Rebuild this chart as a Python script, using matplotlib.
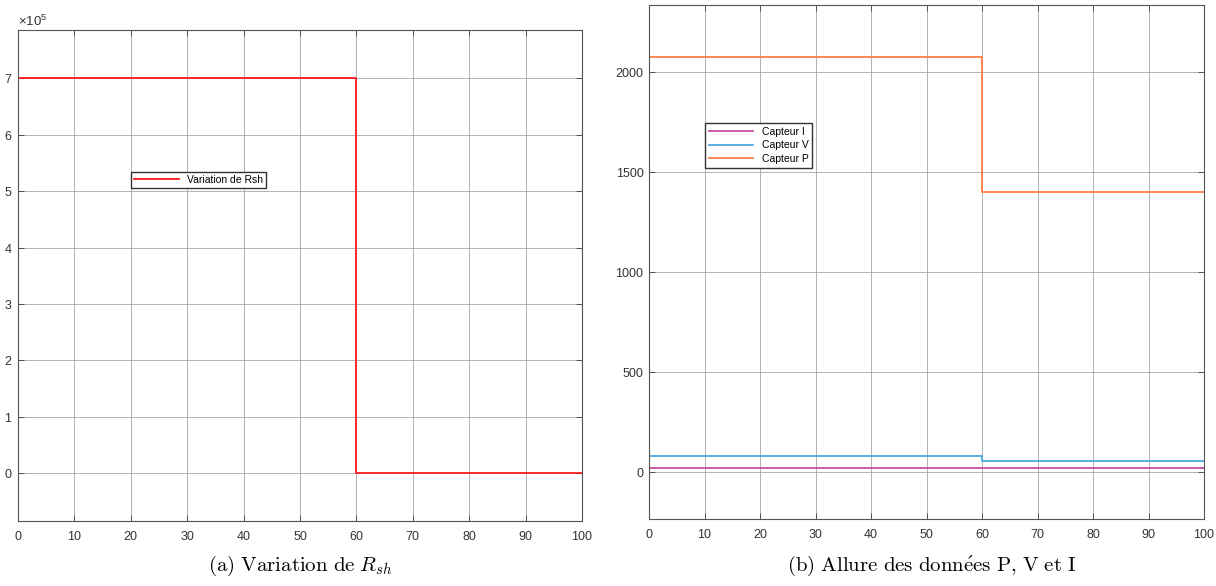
import matplotlib.pyplot as plt
from matplotlib.ticker import ScalarFormatter

# time breakpoints (s) and step values
t = [0, 60, 100]
rsh = [7.0e5, 0.0, 0.0]
cap_i = [20, 20, 20]
cap_v = [83, 58, 58]
cap_p = [2078, 1403, 1403]

plt.rcParams['font.family'] = ['Liberation Sans', 'DejaVu Sans']
plt.rcParams['mathtext.fontset'] = 'custom'
plt.rcParams['mathtext.rm'] = 'Liberation Sans'
plt.rcParams['mathtext.it'] = 'Liberation Sans:italic'

fig = plt.figure(figsize=(12.16, 5.86), dpi=100)
W, H = 1216, 586

def style(ax):
    for s in ax.spines.values():
        s.set_color('#555555')
        s.set_linewidth(0.8)
    ax.tick_params(direction='in', length=4, width=0.7, colors='#555555',
                   labelcolor='#333333', labelsize=9, top=True, right=True, pad=7)
    ax.grid(True, color='#999999', linewidth=0.7, alpha=0.75)
    ax.set_axisbelow(True)

# (a)
ax1 = fig.add_axes([18/W, 1-521/H, (582-18)/W, (521-30)/H])
ax1.step(t, rsh, where='post', color='#ff1a1a', linewidth=1.3, label='Variation de Rsh')
ax1.set_xlim(0, 100)
ax1.set_ylim(-0.85e5, 7.86e5)
ax1.set_xticks(range(0, 101, 10))
ax1.set_yticks([i * 1e5 for i in range(8)])
fmt = ScalarFormatter(useMathText=True)
fmt.set_powerlimits((0, 0))
ax1.yaxis.set_major_formatter(fmt)
ax1.yaxis.get_offset_text().set_fontsize(9.5)
ax1.yaxis.get_offset_text().set_color('#333333')
style(ax1)
ax1.tick_params(axis='y', pad=4)
ax1.legend(loc='upper left', bbox_to_anchor=((131-18)/564, 1-(172-30)/491),
           fontsize=7.5, handlelength=4.3, frameon=True, fancybox=False,
           edgecolor='#333333', framealpha=1, borderpad=0.3, borderaxespad=0)

# (b)
ax2 = fig.add_axes([649/W, 1-519/H, (1204-649)/W, (519-5)/H])
ax2.step(t, cap_i, where='post', color='#c94da3', linewidth=1.3, label='Capteur I')
ax2.step(t, cap_v, where='post', color='#4fa7e0', linewidth=1.3, label='Capteur V')
ax2.step(t, cap_p, where='post', color='#ff7f45', linewidth=1.3, label='Capteur P')
ax2.set_xlim(0, 100)
ax2.set_ylim(-233, 2336)
ax2.set_xticks(range(0, 101, 10))
ax2.set_yticks(range(0, 2001, 500))
style(ax2)
ax2.tick_params(axis='y', pad=4)
ax2.legend(loc='upper left', bbox_to_anchor=((705-649)/555, 1-(123-5)/514),
           fontsize=7.5, handlelength=4.3, frameon=True, fancybox=False,
           edgecolor='#333333', framealpha=1, borderpad=0.35, borderaxespad=0,
           labelspacing=0.35)

fig.text(300/W, 1-566/H, r'$\mathrm{(a)\ Variation\ de\ }R_{sh}$', ha='center', va='center',
         fontsize=15, math_fontfamily='cm')
fig.text(932/W, 1-566/H, r'$\mathrm{(b)\ Allure\ des\ donn\acute{e}es\ P{,}\ V\ et\ I}$',
         ha='center', va='center', fontsize=15, math_fontfamily='cm')

plt.savefig('out.png', dpi=100)
